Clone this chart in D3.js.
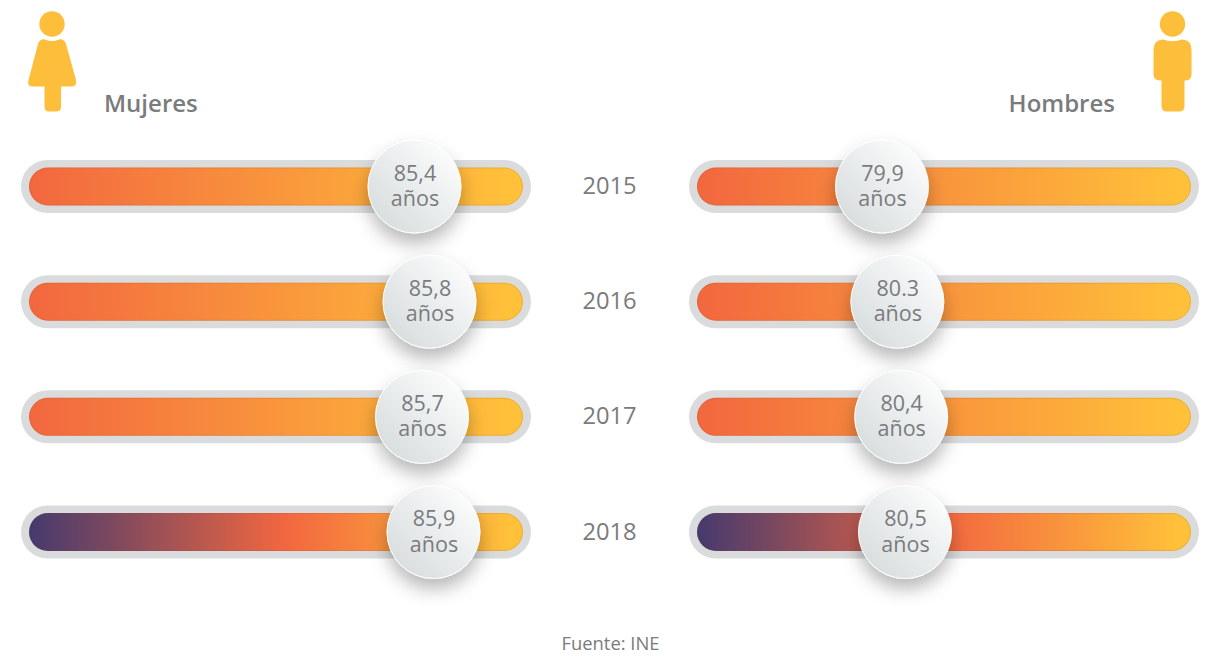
<!DOCTYPE html>
<html lang="es">
<head>
<meta charset="utf-8">
<script src="https://cdn.jsdelivr.net/npm/d3@7"></script>
<style>
html,body{margin:0;padding:0;background:#fff}
svg{display:block}
text{font-family:"Open Sans",sans-serif;fill:#7a7b7d}
</style>
</head>
<body>
<div id="chart"></div>
<script>
const years = ["2015","2016","2017","2018"];
const mujeres = [85.4,85.8,85.7,85.9];
const hombres = [79.9,80.3,80.4,80.5];
const mujeresLabels = ["85,4","85,8","85,7","85,9"];
const hombresLabels = ["79,9","80.3","80,4","80,5"];
const darkYears = ["2018"];
const unit = "años";
const source = "Fuente: INE";

const W=1210,H=656;
const svg=d3.select("#chart").append("svg").attr("width",W).attr("height",H);
const defs=svg.append("defs");

// Row position by year
const y=d3.scalePoint().domain(years).range([186.5,532]);
// The picture's knobs are not evenly spaced per year of age; scale follows them
const xM=d3.scaleLinear().domain([85.4,85.7,85.8,85.9]).range([414.5,422,429.5,433.5]);
const xH=d3.scaleLinear().domain([79.9,80.5]).range([882,905]);

const orange="#F2673F",yellow="#FFC03A",dark="#453A6E";
function grad(id,stops){
  const g=defs.append("linearGradient").attr("id",id);
  stops.forEach(s=>g.append("stop").attr("offset",s[0]).attr("stop-color",s[1]));
}
grad("warm",[[0,orange],[0.97,yellow]]);
grad("coolL",[[0,dark],[0.52,orange],[0.97,yellow]]);
grad("coolR",[[0,dark],[0.5,orange],[0.97,yellow]]);
const kg=defs.append("linearGradient").attr("id","knob").attr("x1",0.15).attr("y1",0.85).attr("x2",0.85).attr("y2",0.15);
kg.append("stop").attr("offset",0).attr("stop-color","#d9dedf");
kg.append("stop").attr("offset",1).attr("stop-color","#fafbfb");
const f=defs.append("filter").attr("id","sh").attr("x","-50%").attr("y","-50%").attr("width","200%").attr("height","220%");
f.append("feDropShadow").attr("dx",0).attr("dy",10).attr("stdDeviation",9).attr("flood-color","#000").attr("flood-opacity",0.28);
const inner=defs.append("filter").attr("id","soft").attr("x","-5%").attr("y","-5%").attr("width","110%").attr("height","110%");
inner.append("feGaussianBlur").attr("stdDeviation",0.5);

const panels=[
 {vals:mujeres,labels:mujeresLabels,x:xM,tx:21,cool:"coolL"},
 {vals:hombres,labels:hombresLabels,x:xH,tx:689,cool:"coolR"}
];
panels.forEach(p=>{
  const g=svg.append("g");
  const rows=g.selectAll("g").data(years).join("g");
  rows.append("rect").attr("x",p.tx).attr("y",d=>y(d)-26.5).attr("width",510).attr("height",53).attr("rx",26.5).attr("fill","#dadbdc");
  rows.append("rect").attr("x",p.tx+8).attr("y",d=>y(d)-19).attr("width",494).attr("height",38).attr("rx",19)
    .attr("fill",d=>`url(#${darkYears.includes(d)?p.cool:"warm"})`);
  rows.append("rect").attr("x",p.tx+8.5).attr("y",d=>y(d)-18.5).attr("width",493).attr("height",37).attr("rx",18.5)
    .attr("fill","none").attr("stroke","#8a4a20").attr("stroke-opacity",0.14).attr("filter","url(#soft)");
  rows.append("circle").attr("cx",(d,i)=>p.x(p.vals[i])).attr("cy",d=>y(d)).attr("r",46.5)
    .attr("fill","url(#knob)").attr("stroke","#fff").attr("stroke-width",1).attr("filter","url(#sh)");
  const t=rows.append("text").attr("text-anchor","middle").attr("font-size",21.5);
  t.append("tspan").attr("x",(d,i)=>p.x(p.vals[i])+0.5).attr("y",d=>y(d)-6).text((d,i)=>p.labels[i]);
  t.append("tspan").attr("x",(d,i)=>p.x(p.vals[i])+0.5).attr("y",d=>y(d)+19.5).text(unit);
});

svg.selectAll("text.year").data(years).join("text").attr("class","year")
  .attr("x",609.5).attr("y",d=>y(d)+7.5).attr("text-anchor","middle").attr("font-size",23.7).text(d=>d);

svg.append("text").attr("x",104).attr("y",112).attr("font-size",24).attr("font-weight",600).text("Mujeres");
svg.append("text").attr("x",1115).attr("y",112).attr("text-anchor","end").attr("font-size",24).attr("font-weight",600).text("Hombres");
svg.append("text").attr("x",610.5).attr("y",649.5).attr("text-anchor","middle").attr("font-size",18.4).text(source);

// Icons
const icon="#FDBE3B";
svg.append("circle").attr("cx",52).attr("cy",24).attr("r",12.7).attr("fill",icon);
svg.append("path").attr("fill",icon).attr("d",
 "M45,39.5 Q52,42.5 59,39.5 Q64,38.5 66,44 L76,80 Q77,86 72,86.5 L61,86.5 L61,107 Q61,111.5 56,111.5 L49,111.5 Q44.5,111.5 44.5,107 L44.5,86.5 L32,86.5 Q27,86 28.5,80 L38,44 Q40,38.5 45,39.5 Z");
svg.append("circle").attr("cx",1172.5).attr("cy",24).attr("r",12.7).attr("fill",icon);
svg.append("path").attr("fill",icon).attr("d",
 "M1163,39.5 Q1172.5,43 1182,39.5 Q1191.5,39.5 1191.5,50 L1191.5,75 Q1191.5,80.5 1184.5,80.5 L1184.5,106 Q1184.5,111.5 1179,111.5 L1167,111.5 Q1161.5,111.5 1161.5,106 L1161.5,80.5 Q1153.5,80.5 1153.5,75 L1153.5,50 Q1153.5,39.5 1163,39.5 Z");
</script>
</body>
</html>
